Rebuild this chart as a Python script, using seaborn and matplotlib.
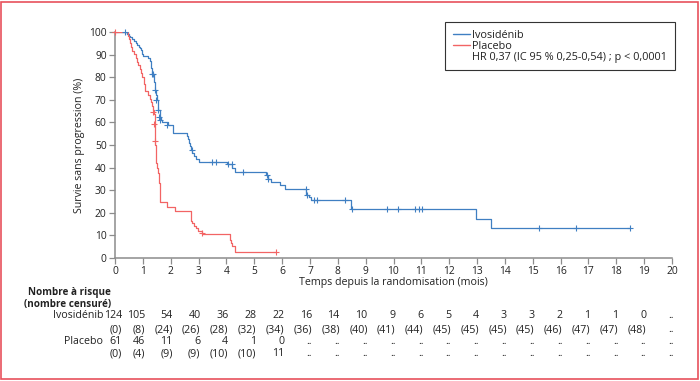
import numpy as np
import pandas as pd
import matplotlib
matplotlib.use("Agg")
import matplotlib.pyplot as plt
import seaborn as sns
from matplotlib.lines import Line2D
from matplotlib.patches import Rectangle
from matplotlib.transforms import blended_transform_factory, offset_copy

# ---------------- data ----------------
ivo_time = [0, 0.42, 0.5, 0.55, 0.62, 0.68, 0.74, 0.8, 0.85, 0.88, 0.92, 0.96, 1.0,
            1.2, 1.24, 1.28, 1.31, 1.34, 1.4, 1.44, 1.47, 1.5, 1.53, 1.56, 1.6, 1.64,
            1.7, 1.92, 2.1, 2.6, 2.63, 2.67, 2.7, 2.73, 2.78, 2.85, 2.92, 3.02, 4.01,
            4.2, 4.3, 5.41, 5.5, 5.6, 5.93, 6.11, 6.87, 6.95, 7.03, 8.46, 12.96, 13.5, 18.48]
ivo_surv = [100, 99.2, 98.4, 97.6, 96.8, 96.0, 95.2, 94.4, 93.5, 92.7, 91.9, 90.3, 89.5,
            88.7, 87.1, 85.5, 83.9, 81.5, 77.9, 74.5, 72.0, 69.8, 67.0, 65.3, 62.5, 61.0,
            60.0, 59.0, 55.5, 54.0, 52.5, 51.0, 49.5, 48.0, 46.5, 45.0, 44.0, 42.4, 41.6,
            39.7, 37.9, 36.7, 35.0, 33.8, 32.3, 30.5, 27.9, 27.0, 25.7, 21.7, 17.3, 13.1, 13.1]
ivo_cens_time = [0.36, 1.32, 1.36, 1.45, 1.49, 1.53, 1.57, 1.61, 1.88, 2.75, 3.5, 3.62,
                 4.07, 4.19, 4.59, 5.45, 5.51, 6.85, 6.9, 7.13, 7.25, 8.26, 8.5, 9.76,
                 10.16, 10.78, 10.9, 11.02, 15.23, 16.56, 18.48]
ivo_cens_surv = [100, 81.5, 81.5, 74.5, 69.8, 65.3, 62.5, 61.0, 59.0, 48.0, 42.4, 42.4,
                 41.6, 41.6, 37.9, 36.7, 35.0, 30.5, 27.9, 25.7, 25.7, 25.7, 21.7, 21.7,
                 21.7, 21.7, 21.7, 21.7, 13.1, 13.1, 13.1]

pla_time = [0, 0.48, 0.5, 0.53, 0.56, 0.62, 0.7, 0.74, 0.78, 0.83, 0.88, 0.93, 0.98,
            1.03, 1.05, 1.06, 1.07, 1.2, 1.24, 1.28, 1.33, 1.36, 1.4, 1.42, 1.44, 1.46,
            1.52, 1.55, 1.58, 1.6, 1.63, 1.86, 2.16, 2.72, 2.78, 2.84, 2.92, 2.99, 3.13,
            4.13, 4.18, 4.2, 4.31, 5.79]
pla_surv = [100, 98.4, 96.7, 95.1, 93.4, 91.8, 90.2, 88.5, 86.9, 85.2, 83.6, 82.0, 80.3,
            78.7, 77.0, 75.4, 73.8, 72.1, 70.5, 68.9, 67.2, 65.6, 63.9, 57.0, 50.0, 42.0,
            40.0, 37.5, 33.0, 29.0, 25.0, 22.7, 20.9, 16.4, 15.3, 14.3, 13.1, 12.1, 10.6,
            8.0, 6.6, 5.3, 2.8, 2.8]
pla_cens_time = [0, 1.36, 1.39, 1.42, 3.11, 5.79]
pla_cens_surv = [100, 64.8, 59.4, 51.8, 10.9, 2.8]

months = list(range(0, 21))
ivo_risk = ["124", "105", "54", "40", "36", "28", "22", "16", "14", "10", "9", "6",
            "5", "4", "3", "3", "2", "1", "1", "0", ".."]
ivo_censored = ["(0)", "(8)", "(24)", "(26)", "(28)", "(32)", "(34)", "(36)", "(38)",
                "(40)", "(41)", "(44)", "(45)", "(45)", "(45)", "(45)", "(46)", "(47)",
                "(47)", "(48)", ".."]
pla_risk = ["61", "46", "11", "6", "4", "1", "0"] + [".."] * 14
pla_censored = ["(0)", "(4)", "(9)", "(9)", "(10)", "(10)", "11"] + [".."] * 14

legend_labels = ["Ivosidénib", "Placebo", "HR 0,37 (IC 95 % 0,25-0,54) ; p < 0,0001"]

# ---------------- style ----------------
sns.set_theme(style="white")
plt.rcParams["font.family"] = ["Open Sans", "DejaVu Sans"]

BLUE = "#3f7fc2"
RED = "#f26464"
AXC = "#8c8c8c"
TXT = "#222222"
FS_TICK = 7.4
FS_LAB = 7.7
FS_LEG = 7.8
FS_TAB = 7.7

W, H = 700, 381
fig = plt.figure(figsize=(W / 100, H / 100), dpi=100)
ax = fig.add_axes([115 / W, 123 / H, 557 / W, 226 / H])

ivo_df = pd.DataFrame({"t": ivo_time, "s": ivo_surv})
pla_df = pd.DataFrame({"t": pla_time, "s": pla_surv})
sns.lineplot(data=ivo_df, x="t", y="s", ax=ax, color=BLUE, lw=0.9,
             drawstyle="steps-post", estimator=None, sort=False)
sns.lineplot(data=pla_df, x="t", y="s", ax=ax, color=RED, lw=0.9,
             drawstyle="steps-post", estimator=None, sort=False)
sns.scatterplot(x=ivo_cens_time, y=ivo_cens_surv, ax=ax, marker="+", color=BLUE,
                s=22, linewidth=0.8, clip_on=False, zorder=3)
sns.scatterplot(x=pla_cens_time, y=pla_cens_surv, ax=ax, marker="+", color=RED,
                s=22, linewidth=0.8, clip_on=False, zorder=3)

ax.set_xlim(0, 20)
ax.set_ylim(0, 100)
ax.set_xticks(months)
ax.set_yticks(range(0, 101, 10))
for sp in ["top", "right"]:
    ax.spines[sp].set_visible(False)
for sp in ["left", "bottom"]:
    ax.spines[sp].set_color(AXC)
    ax.spines[sp].set_linewidth(1.1)
ax.tick_params(axis="both", direction="out", length=4, width=0.9, color=AXC,
               labelsize=FS_TICK, labelcolor=TXT, pad=2, bottom=True, left=True)
ax.set_xlabel("Temps depuis la randomisation (mois)", fontsize=FS_LAB, color=TXT, labelpad=0)
ax.set_ylabel("Survie sans progression (%)", fontsize=FS_LAB, color=TXT, labelpad=3)

# legend
handles = [Line2D([], [], color=BLUE, lw=1), Line2D([], [], color=RED, lw=1),
           Line2D([], [], color="none", lw=0)]
leg = fig.legend(handles, legend_labels, loc="upper right",
                 bbox_to_anchor=(675 / W, 1 - 22 / H), bbox_transform=fig.transFigure,
                 frameon=True, fancybox=False, edgecolor="#333333", framealpha=1,
                 fontsize=FS_LEG, handlelength=1.6, handletextpad=0.2, labelspacing=0.0,
                 borderpad=0.7, borderaxespad=0)
leg.get_frame().set_linewidth(0.8)
for t in leg.get_texts():
    t.set_color(TXT)

# risk table
trans = blended_transform_factory(ax.transData, fig.transFigure)
rows = [(ivo_risk, 316), (ivo_censored, 329.5), (pla_risk, 341.5), (pla_censored, 353.5)]
for vals, py in rows:
    for i, (m, v) in enumerate(zip(months, vals)):
        dx = 7 if i == 0 else 2
        tr = offset_copy(trans, fig=fig, x=dx * 0.72, y=0, units="points")
        ax.text(m, 1 - py / H, v, transform=tr, ha="right", va="center",
                fontsize=FS_TAB, color=TXT)

fig.text(104 / W, 1 - 316 / H, "Ivosidénib", ha="right", va="center", fontsize=FS_TAB, color=TXT)
fig.text(103 / W, 1 - 341.5 / H, "Placebo", ha="right", va="center", fontsize=FS_TAB, color=TXT)
fig.text(111 / W, 1 - 292.5 / H, "Nombre à risque", ha="right", va="center",
         fontsize=7.1, color=TXT, fontweight="bold")
fig.text(111 / W, 1 - 304 / H, "(nombre censuré)", ha="right", va="center",
         fontsize=7.1, color=TXT, fontweight="bold")

fig.add_artist(Rectangle((1 / W, 2 / H), 697 / W, 377 / H, transform=fig.transFigure,
                         fill=False, edgecolor="#e8525c", lw=1.2))

fig.savefig("out.png", dpi=100)
